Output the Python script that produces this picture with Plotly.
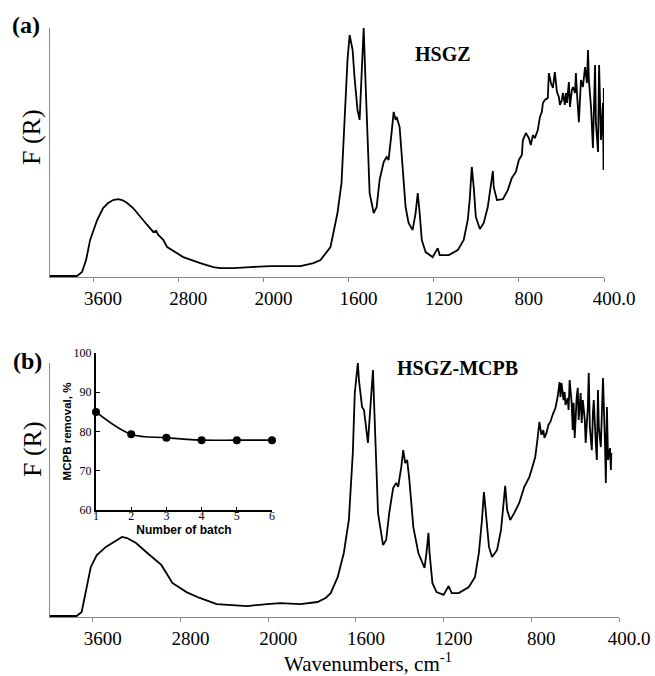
import plotly.graph_objects as go

# ---------------- data ----------------
wn_a = [4005, 3751, 3704, 3666, 3628, 3562, 3506, 3459, 3412, 3365, 3327, 3280, 3224, 3158, 3092,
        3035, 3007, 2988, 2941, 2904, 2828, 2753, 2593, 2471, 2405, 2282, 2122, 1967, 1873, 1826,
        1765, 1732, 1685, 1652, 1633, 1619, 1605, 1595, 1581, 1572, 1558, 1548, 1539, 1529, 1520,
        1511, 1501, 1482, 1468, 1454, 1435, 1421, 1412, 1398, 1388, 1379, 1374, 1360, 1346, 1332,
        1318, 1299, 1285, 1275, 1266, 1256, 1238, 1205, 1181, 1172, 1129, 1087, 1059, 1040, 1031,
        1021, 1012, 1002, 983, 965, 946, 936, 922, 918, 903, 875, 852, 833,
        814, 800, 786, 781, 767, 753, 744, 734, 725, 711, 701, 692, 687, 678, 664,
        659, 649, 640, 631, 621, 612, 607, 598, 593, 584, 579, 574, 565, 560, 551,
        546, 536, 532, 527, 518, 513, 508, 499, 494, 489, 480, 475, 471, 461, 452,
        442, 438, 428, 423, 414, 405, 402, 401, 400]
fr_a = [0.4, 0.4, 2.0, 6.8, 14.9, 22.9, 27.7, 29.7, 30.9, 31.3, 30.9, 29.7, 27.7, 24.1, 20.9,
        18.1, 18.5, 16.9, 14.9, 12.0, 10.0, 8.0, 5.6, 4.0, 3.6, 3.6, 4.0, 4.4, 4.4, 4.4,
        5.6, 6.8, 12.0, 25.7, 37.8, 64.3, 87.1, 97.2, 91.2, 80.3, 67.1, 63.1, 77.9, 100, 77.9,
        55.0, 33.7, 25.7, 28.1, 39.0, 46.2, 48.2, 47.0, 57.8, 66.3, 63.1, 64.3, 60.2, 44.2, 28.1,
        21.7, 18.9, 25.7, 33.7, 25.7, 14.9, 10.0, 8.0, 11.6, 8.8, 8.8, 10.8, 14.9, 22.9, 30.9,
        44.2, 36.1, 24.1, 19.3, 21.7, 28.1, 34.9, 42.6, 36.1, 30.9, 31.3, 34.9, 39.8,
        42.2, 47.0, 49.0, 55.0, 57.8, 55.8, 53.0, 57.0, 55.8, 59.0, 64.3, 66.3, 69.9, 71.1, 71.9,
        81.9, 77.9, 75.9, 82.3, 74.3, 72.3, 69.1, 71.1, 73.9, 69.1, 73.9, 69.9, 78.3, 68.3, 75.1,
        76.3, 73.9, 81.9, 73.9, 62.2, 71.1, 79.1, 76.3, 80.3, 84.3, 77.9, 91.2, 79.1, 68.3, 51.8,
        85.1, 61.8, 50.2, 85.1, 55.0, 69.9, 43.0, 75.9, 45.8]

wn_b = [4004, 3747, 3701, 3664, 3618, 3563, 3480, 3407, 3333, 3287, 3205, 3113, 3021, 2975, 2929,
        2874, 2745, 2625, 2469, 2322, 2193, 2009, 1945, 1853, 1775, 1738, 1715, 1683, 1655, 1632,
        1614, 1605, 1591, 1586, 1572, 1563, 1554, 1545, 1541, 1531, 1522, 1517, 1508, 1499, 1476,
        1462, 1448, 1430, 1416, 1407, 1393, 1384, 1375, 1366, 1356, 1338, 1315, 1287, 1278, 1269,
        1264, 1251, 1232, 1200, 1177, 1163, 1131, 1085, 1057, 1039, 1025, 1016, 1007, 993, 979,
        956, 938, 929, 919, 910, 896, 878, 855, 832, 809,
        795, 782, 772, 768, 763, 754, 745, 740, 731, 722, 713, 703, 694, 690, 680,
        671, 667, 662, 653, 648, 644, 634, 630, 625, 616, 611, 607, 602, 593, 588,
        584, 575, 570, 565, 556, 552, 542, 538, 533, 524, 519, 515, 506, 501, 496,
        492, 483, 478, 473, 464, 460, 455, 450, 441, 437, 435]
fr_b = [0.4, 0.4, 2.0, 10.6, 19.7, 24.4, 27.6, 29.5, 31.5, 31.1, 29.1, 25.6, 22.4, 20.5, 17.3,
        13.4, 9.8, 7.5, 5.1, 4.7, 4.3, 5.1, 5.5, 5.1, 5.9, 7.5, 9.4, 15.7, 25.2, 38.2,
        64.6, 88.2, 100, 93.3, 82.7, 81.5, 73.6, 68.5, 73.6, 86.6, 97.2, 84.3, 61.8, 40.9, 28.3,
        30.3, 40.9, 50.8, 52.8, 51.2, 59.1, 65.7, 60.6, 61.8, 53.9, 35.4, 25.2, 19.3, 25.2, 33.1,
        25.2, 13.4, 9.8, 8.7, 12.2, 9.4, 9.4, 11.8, 15.7, 25.2, 38.2, 49.2, 40.9, 27.6, 23.6,
        26.4, 34.3, 43.3, 51.6, 42.1, 38.2, 40.9, 44.9, 51.2, 55.1,
        59.1, 63.0, 69.7, 72.8, 76.8, 71.7, 73.6, 70.5, 72.4, 75.6, 76.8, 79.5, 81.5, 82.3, 86.6,
        92.5, 86.6, 92.1, 85.4, 88.6, 83.5, 86.2, 81.5, 93.3, 84.3, 73.6, 84.3, 70.5, 86.6, 90.2,
        77.6, 88.2, 76.4, 85.4, 77.6, 68.5, 82.7, 96.1, 74.8, 65.7, 80.3, 85.4, 68.5, 61.8, 89.4,
        74.8, 66.9, 84.3, 94.1, 68.5, 52.8, 82.7, 61.8, 66.5, 57.9, 64.6]

tick_wn = [3600, 2800, 2000, 1600, 1200, 800, 400]
tick_labels = ["3600", "2800", "2000", "1600", "1200", "800", "400.0"]

batch = [1, 2, 3, 4, 5, 6]
removal = [85.0, 79.3, 78.4, 77.8, 77.8, 77.8]


# axis is compressed by a factor of 2 above 2000 cm-1
def to_axis(w):
    return w if w <= 2000 else 2000 + (w - 2000) / 2.0


W, H = 655, 676
def px(x):
    return x / W
def py(y):
    return 1 - y / H

SERIF = "Liberation Serif"
SANS = "Liberation Sans"
GRAY = "#8a8a8a"

fig = go.Figure()
fig.add_trace(go.Scatter(x=[to_axis(w) for w in wn_a], y=fr_a, mode="lines",
                         line=dict(color="black", width=1.8), xaxis="x", yaxis="y",
                         showlegend=False))
fig.add_trace(go.Scatter(x=[to_axis(w) for w in wn_b], y=fr_b, mode="lines",
                         line=dict(color="black", width=1.8), xaxis="x2", yaxis="y2",
                         showlegend=False))
fig.add_trace(go.Scatter(x=batch, y=removal, mode="lines+markers",
                         line=dict(color="black", width=1.6, shape="spline", smoothing=1.0),
                         marker=dict(color="black", size=8), xaxis="x3", yaxis="y3",
                         cliponaxis=False, showlegend=False))

xcommon = dict(showline=True, linecolor=GRAY, linewidth=1, ticks="outside", ticklen=4,
               tickcolor=GRAY, tickwidth=1, showgrid=False, zeroline=False, automargin=False,
               tickvals=[to_axis(w) for w in tick_wn], ticktext=tick_labels,
               tickfont=dict(family=SERIF, size=19, color="black"), ticklabelshift=-10)
ycommon = dict(showline=True, linecolor=GRAY, linewidth=1, ticks="", showticklabels=False,
               showgrid=False, zeroline=False, range=[0, 100], automargin=False)

fig.update_layout(
    template="none",
    width=W, height=H, margin=dict(l=0, r=0, t=0, b=0, pad=0),
    paper_bgcolor="white", plot_bgcolor="rgba(0,0,0,0)",
    xaxis=dict(domain=[px(50), px(604)], range=[to_axis(4005), 400], anchor="y", **xcommon),
    yaxis=dict(domain=[py(277), py(28)], anchor="x", **ycommon),
    xaxis2=dict(domain=[px(50), px(619)], range=[to_axis(3990), 400], anchor="y2", **xcommon),
    yaxis2=dict(domain=[py(617), py(363)], anchor="x2", **ycommon),
    xaxis3=dict(domain=[px(96), px(272)], range=[1, 6], anchor="y3", showline=True,
                linecolor="black", linewidth=2, ticks="inside", ticklen=3, tickcolor="black",
                tickvals=batch, showgrid=False, zeroline=False, ticklabelstandoff=-6,
                automargin=False,
                tickfont=dict(family=SERIF, size=12, color="black"),
                title=dict(text="<b>Number of batch</b>", standoff=0,
                           font=dict(family=SANS, size=12, color="black"))),
    yaxis3=dict(domain=[py(510), py(353)], range=[60, 100], anchor="x3", showline=True,
                linecolor="black", linewidth=2, ticks="inside", ticklen=4, tickcolor="black",
                tickvals=[60, 70, 80, 90, 100], showgrid=False, zeroline=False,
                ticklabelstandoff=0, automargin=False,
                tickfont=dict(family=SERIF, size=12, color="black"),
                title=dict(text="<b>MCPB removal, %</b>", standoff=0,
                           font=dict(family=SANS, size=11.5, color="black"))),
)

ann = [
    dict(text="<b>(a)</b>", x=px(26), y=py(25), font=dict(family=SERIF, size=24)),
    dict(text="<b>(b)</b>", x=px(27), y=py(361), font=dict(family=SERIF, size=24)),
    dict(text="F (R)", x=px(31), y=py(137), textangle=-90, font=dict(family=SERIF, size=26)),
    dict(text="F (R)", x=px(32), y=py(449), textangle=-90, font=dict(family=SERIF, size=26)),
    dict(text="<b>HSGZ</b>", x=px(443), y=py(54), font=dict(family=SERIF, size=20)),
    dict(text="<b>HSGZ-MCPB</b>", x=px(457), y=py(368), font=dict(family=SERIF, size=20)),
    dict(text="Wavenumbers, cm<sup>-1</sup>", x=px(368), y=py(662),
         font=dict(family=SERIF, size=21)),
]
for a in ann:
    a.update(xref="paper", yref="paper", showarrow=False, xanchor="center", yanchor="middle")
    a["font"]["color"] = "black"
fig.update_layout(annotations=ann)

fig.write_html("out.html", config={"displayModeBar": False},
               post_script="document.body.style.margin='0';document.body.style.padding='0';")
